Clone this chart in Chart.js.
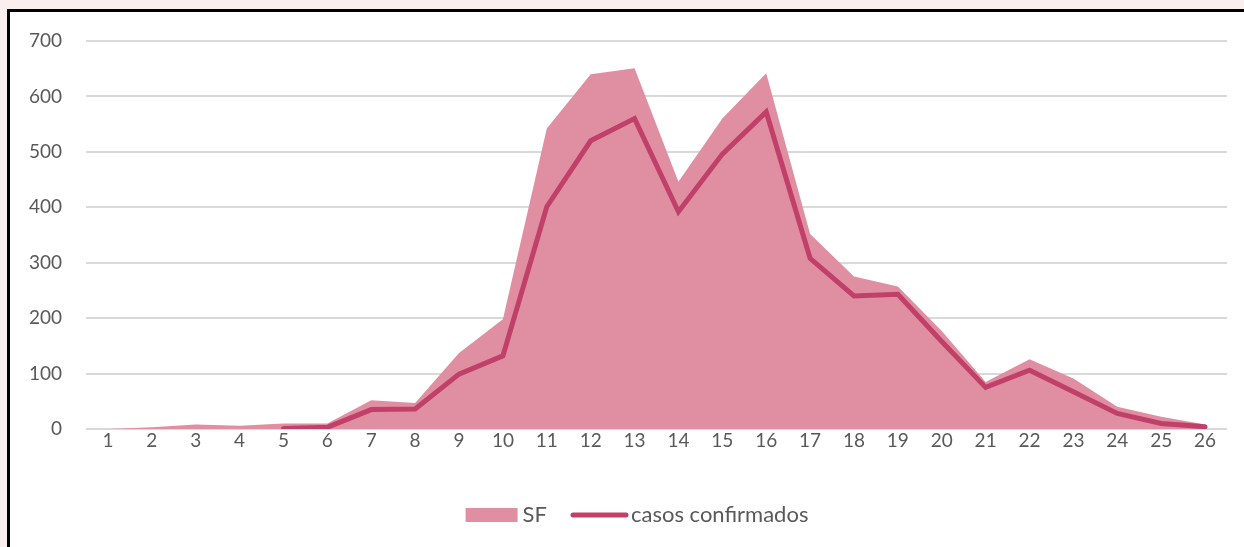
<!DOCTYPE html>
<html>
<head>
<meta charset="utf-8">
<script src="https://cdn.jsdelivr.net/npm/chart.js@4.4.1/dist/chart.umd.min.js"></script>
<style>
  html, body { margin: 0; padding: 0; }
  body { width: 1244px; height: 547px; background: #faeeee; overflow: hidden; position: relative; }
  .frame {
    position: absolute; left: 7px; top: 9px; width: 1300px; height: 600px;
    background: #ffffff; border-left: 3px solid #000; border-top: 3px solid #000;
  }
  .box { position: absolute; left: 10px; top: 12px; width: 1234px; height: 535px; }
</style>
</head>
<body>
<div class="frame"></div>
<div class="box"><canvas id="chart"></canvas></div>
<script>
// weeks on the x axis
const weeks = ['1','2','3','4','5','6','7','8','9','10','11','12','13','14','15','16','17','18','19','20','21','22','23','24','25','26'];
// SF (area)
const sf = [0, 3, 8, 6, 10, 10, 52, 47, 137, 198, 542, 640, 651, 446, 560, 642, 352, 275, 257, 177, 85, 126, 91, 40, 22, 8];
// casos confirmados (line)
const confirmados = [null, null, null, null, 1, 3, 35, 36, 99, 132, 401, 520, 560, 392, 496, 572, 308, 240, 243, 158, 75, 106, 67, 28, 10, 4];
const yTicks = [0, 100, 200, 300, 400, 500, 600, 700];

const fillColor = '#e08fa2';
const lineColor = '#c0406a';
const textColor = '#595959';
const fontFamily = 'Lato, "Open Sans", sans-serif';

// legend drawn by hand so the line sample can be thin and the box thick
const legendPlugin = {
  id: 'customLegend',
  afterDraw(chart) {
    const c = chart.ctx;
    c.save();
    c.font = '22px ' + fontFamily;
    c.textBaseline = 'middle';
    const y = 503;
    const boxW = 52, boxH = 14, gap = 5, itemGap = 24;
    const w1 = c.measureText('SF').width;
    const w2 = c.measureText('casos confirmados').width;
    const total = boxW + gap + w1 + itemGap + 57 + 3 + w2;
    let x = 627 - total / 2;
    c.fillStyle = fillColor;
    c.fillRect(x, y - boxH / 2, boxW, boxH);
    x += boxW + gap;
    c.fillStyle = textColor;
    c.fillText('SF', x, y);
    x += w1 + itemGap;
    c.strokeStyle = lineColor;
    c.lineWidth = 5;
    c.lineCap = 'round';
    c.beginPath();
    c.moveTo(x + 2, y);
    c.lineTo(x + 55, y);
    c.stroke();
    x += 57 + 3;
    c.fillText('casos confirmados', x, y);
    c.restore();
  }
};

new Chart(document.getElementById('chart'), {
  type: 'line',
  data: {
    labels: weeks,
    datasets: [
      {
        label: 'casos confirmados',
        data: confirmados,
        borderColor: lineColor,
        borderWidth: 5,
        borderCapStyle: 'round',
        fill: false,
        pointRadius: 0,
        tension: 0,
        order: 0
      },
      {
        label: 'SF',
        data: sf,
        backgroundColor: fillColor,
        borderColor: fillColor,
        borderWidth: 0,
        fill: 'origin',
        pointRadius: 0,
        tension: 0,
        order: 1
      }
    ]
  },
  options: {
    responsive: true,
    maintainAspectRatio: false,
    animation: false,
    layout: { padding: { top: 29, right: 17, bottom: 83, left: 0 } },
    plugins: {
      legend: { display: false },
      tooltip: { enabled: false }
    },
    scales: {
      x: {
        offset: true,
        grid: { display: false, drawTicks: false },
        border: { display: false },
        ticks: { color: textColor, font: { family: fontFamily, size: 19 }, padding: 0, maxRotation: 0, autoSkip: false },
        afterFit(scale) { scale.height = 35; }
      },
      y: {
        min: 0,
        max: 700,
        afterBuildTicks(scale) { scale.ticks = yTicks.map(v => ({ value: v })); },
        grid: { color: '#d9d9d9', lineWidth: 2, drawTicks: false },
        border: { display: false },
        ticks: { color: textColor, font: { family: fontFamily, size: 19 }, padding: 24 },
        afterFit(scale) {
          scale.width = 76;
          // tick padding would otherwise push the plot top down
          scale.paddingTop = 6;
          scale.paddingBottom = 6;
        }
      }
    }
  },
  plugins: [legendPlugin]
});
</script>
</body>
</html>
